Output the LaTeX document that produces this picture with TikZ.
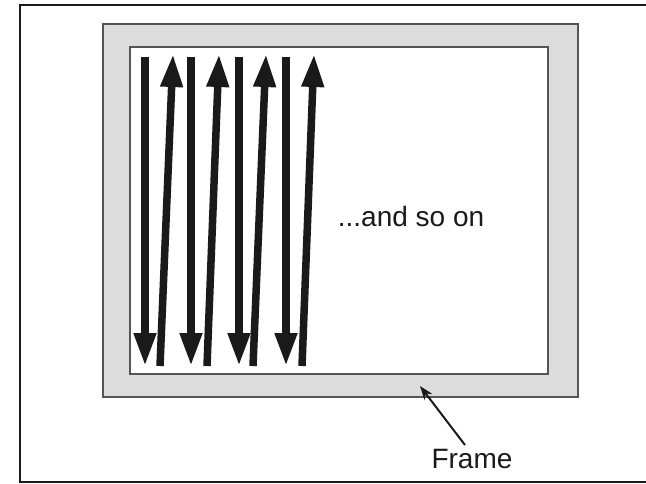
\documentclass[tikz,border=0pt]{standalone}
\usepackage{fontspec}
\setmainfont{Liberation Sans}
\usetikzlibrary{arrows.meta}
\definecolor{framegray}{HTML}{DCDCDC}
\definecolor{edgegray}{HTML}{555555}
\definecolor{ink}{HTML}{1A1A1A}
\begin{document}
\begin{tikzpicture}[x=1pt,y=-1pt,
  bar/.style={ink, line width=7.5pt, -{Triangle[length=33pt,width=21pt]}},
  lbl/.style={font=\fontsize{28}{32}\selectfont, text=ink, inner sep=0pt},
  pointer/.style={ink, line width=2pt, -{Stealth[length=14pt,width=10pt]}}]
\useasboundingbox (0,0) rectangle (646,483);
% outer border (open on the right)
\draw[ink, line width=2.5pt] (660,5) -- (20,5) -- (20,482) -- (660,482);
% gray frame
\draw[edgegray, line width=1.5pt, fill=framegray] (103,24) rectangle (578,397);
\draw[edgegray, line width=1.5pt, fill=white] (130,47) rectangle (548,374);
% coordinates for the strokes
\foreach \i/\xd/\xb/\xt in {1/145/160/173, 2/191/207/219, 3/239/253/266, 4/286/302/314} {
  \coordinate (d\i s) at (\xd,57);
  \coordinate (d\i e) at (\xd,366);
  \coordinate (u\i s) at (\xb,366);
  \coordinate (u\i e) at (\xt,54);
}
\foreach \i in {1,2,3,4} {
  \draw[bar] (d\i s) -- (d\i e);
  \draw[bar] (u\i s) -- (u\i e);
}
\node[lbl] (more) at (411,216) {...and so on};
\node[lbl] (frame) at (472,459) {Frame};
\coordinate (hit) at (420,386);
\draw[pointer] (frame.north) ++(-7,-4) coordinate (tail) (tail) -- (hit);
\end{tikzpicture}
\end{document}
